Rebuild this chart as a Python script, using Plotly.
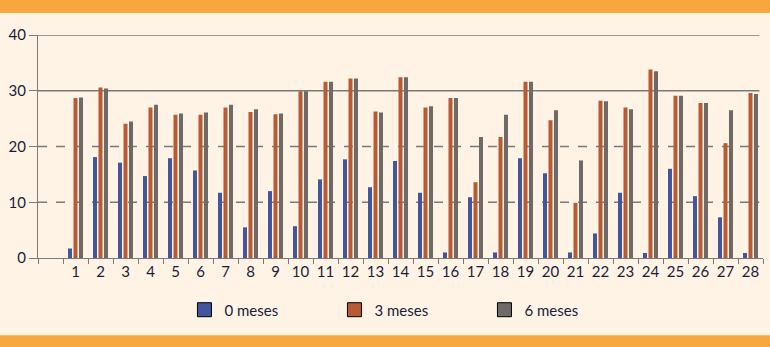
import plotly.graph_objects as go

# meses de seguimiento por paciente
pacientes = [str(i) for i in range(1, 29)]
meses_0 = [1.7, 18.1, 17.1, 14.7, 17.9, 15.7, 11.7, 5.5, 12.0, 5.7,
           14.1, 17.7, 12.7, 17.4, 11.7, 1.0, 10.9, 1.0, 17.9, 15.2,
           1.0, 4.4, 11.7, 0.9, 16.0, 11.1, 7.3, 0.9]
meses_3 = [28.7, 30.6, 24.1, 27.0, 25.7, 25.7, 27.0, 26.2, 25.8, 29.9,
           31.6, 32.2, 26.3, 32.4, 27.0, 28.7, 13.6, 21.7, 31.6, 24.7,
           9.9, 28.2, 27.0, 33.8, 29.1, 27.8, 20.6, 29.6]
meses_6 = [28.8, 30.4, 24.5, 27.5, 25.9, 26.1, 27.5, 26.7, 25.9, 29.9,
           31.6, 32.2, 26.1, 32.4, 27.2, 28.7, 21.7, 25.7, 31.6, 26.5,
           17.5, 28.1, 26.7, 33.5, 29.1, 27.8, 26.5, 29.4]
series = ["0 meses", "3 meses", "6 meses"]
colores = ["#41569c", "#b85b34", "#6d6a67"]

fondo = "#fef3e4"
naranja = "#f7a73d"
texto = "#1c1c3a"

fig = go.Figure()
for nombre, valores, color in zip(series, [meses_0, meses_3, meses_6], colores):
    fig.add_trace(go.Bar(x=pacientes, y=valores, name=nombre,
                         marker=dict(color=color, line=dict(width=0)),
                         showlegend=False))
    # entrada de leyenda con borde negro
    fig.add_trace(go.Scatter(x=[None], y=[None], mode="markers", name=nombre,
                             marker=dict(symbol="square", size=14, color=color,
                                         line=dict(color="black", width=1))))

# líneas de referencia: sólidas en 30 y 40, discontinuas en 10 y 20
for nivel, trazo in [(10, "dash"), (20, "dash"), (30, "solid"), (40, "solid")]:
    fig.add_shape(type="line", xref="paper", yref="y", x0=0, x1=0.995,
                  y0=nivel, y1=nivel, layer="below",
                  line=dict(color="#7a7a7a", width=1.3, dash=trazo))

# franjas naranjas arriba y abajo
fig.add_shape(type="rect", xref="paper", yref="paper", x0=-0.1, x1=1.1,
              y0=1.099, y1=1.2, fillcolor=naranja, line=dict(width=0))
fig.add_shape(type="rect", xref="paper", yref="paper", x0=-0.1, x1=1.1,
              y0=-0.5, y1=-0.346, fillcolor=naranja, line=dict(width=0))

fig.update_layout(
    width=770, height=347,
    margin=dict(l=38, r=7, t=35, b=89),
    paper_bgcolor=fondo, plot_bgcolor=fondo,
    barmode="group", bargap=0.34, bargroupgap=0.27,
    font=dict(family="Lato", size=15, color=texto),
    legend=dict(orientation="h", x=0.202, y=-0.233, yanchor="middle",
                xanchor="left", entrywidth=105, entrywidthmode="pixels",
                bgcolor="rgba(0,0,0,0)", font=dict(size=15, color=texto)),
)
fig.update_xaxes(type="category", categoryorder="array",
                 categoryarray=[" "] + pacientes, range=[-0.5, 28.5],
                 tickson="boundaries", ticks="outside", ticklen=5,
                 tickangle=0, automargin=False,
                 tickcolor="#7a7a7a", showline=True, linecolor="#7a7a7a",
                 linewidth=1.3, showgrid=False, tickfont=dict(size=15))
fig.update_yaxes(range=[0, 40], tickvals=[0, 10, 20, 30, 40],
                 ticks="outside", ticklen=8, tickcolor="#7a7a7a",
                 automargin=False,
                 showline=True, linecolor="#7a7a7a", linewidth=1.3,
                 showgrid=False, zeroline=False, tickfont=dict(size=15))

# sin margen del body para que la figura ocupe la ventana completa
ajuste = ("document.body.style.margin='0';"
          "document.body.style.overflow='hidden';"
          "Plotly.relayout('{plot_id}', {width: 770, height: 347});")
fig.write_html("out.html", post_script=ajuste,
               config={"displayModeBar": False})
